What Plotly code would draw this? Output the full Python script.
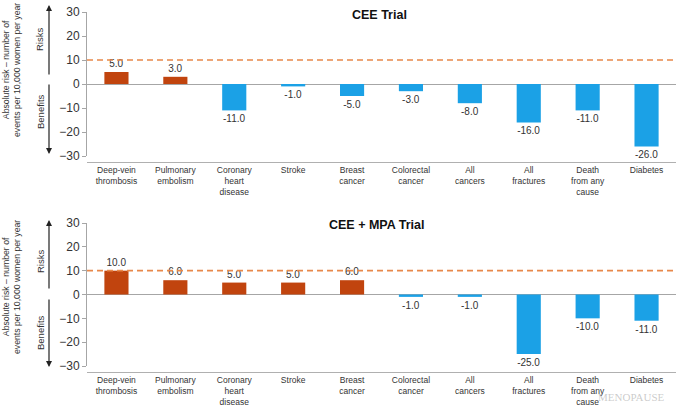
import plotly.graph_objects as go

categories = ["Deep-vein<br>thrombosis", "Pulmonary<br>embolism", "Coronary<br>heart<br>disease",
              "Stroke", "Breast<br>cancer", "Colorectal<br>cancer", "All<br>cancers",
              "All<br>fractures", "Death<br>from any<br>cause", "Diabetes"]
cee_values = [5.0, 3.0, -11.0, -1.0, -5.0, -3.0, -8.0, -16.0, -11.0, -26.0]
cee_mpa_values = [10.0, 6.0, 5.0, 5.0, 6.0, -1.0, -1.0, -25.0, -10.0, -11.0]
threshold = 10
y_ticks = [-30, -20, -10, 0, 10, 20, 30]
panel_titles = ["CEE Trial", "CEE + MPA Trial"]

RISK = "#C1440E"
BENEFIT = "#1BA1E6"
FONT = "Liberation Sans, Arial, sans-serif"

W, H = 676, 406
def py(px):
    return 1 - px / H
def pxx(px):
    return px / W

fig = go.Figure()
for i, vals in enumerate([cee_values, cee_mpa_values]):
    suf = "" if i == 0 else "2"
    fig.add_trace(go.Bar(
        x=categories, y=vals,
        marker=dict(color=[RISK if v > 0 else BENEFIT for v in vals], line=dict(width=0)),
        width=0.41,
        text=[f"{v:.1f}" for v in vals], textposition="outside",
        textfont=dict(size=10, color="#333333", family=FONT),
        cliponaxis=False, xaxis="x" + suf, yaxis="y" + suf, showlegend=False,
    ))

axis_common = dict(range=[-30, 30], tickvals=y_ticks, showline=True, linecolor="#A6A6A6",
                   linewidth=1, ticks="outside", ticklen=4, tickcolor="#A6A6A6",
                   zeroline=True, zerolinecolor="#A6A6A6", zerolinewidth=1, showgrid=False,
                   tickfont=dict(size=12, color="#333333", family=FONT), fixedrange=True,
                   automargin=False)
xcommon = dict(domain=[pxx(87), 1.0], anchor="free", showline=True, linecolor="#B0B0B0",
               linewidth=1, ticks="", showgrid=False, automargin=False, fixedrange=True,
               tickfont=dict(size=8.5, color="#333333", family=FONT), tickangle=0)

fig.update_layout(
    width=W, height=H, margin=dict(l=0, r=0, t=0, b=0, autoexpand=False),
    paper_bgcolor="white", plot_bgcolor="white",
    font=dict(family=FONT, color="#333333"),
    xaxis=dict(**xcommon, position=py(162)),
    xaxis2=dict(**xcommon, position=py(372)),
    yaxis=dict(**axis_common, domain=[py(156), py(12)], anchor="x"),
    yaxis2=dict(**axis_common, domain=[py(366), py(223)], anchor="x2"),
)

for yref in ["y", "y2"]:
    fig.add_shape(type="line", xref=("x domain" if yref == "y" else "x2 domain"), yref=yref,
                  x0=0, x1=1, y0=threshold, y1=threshold,
                  line=dict(color="#E8884A", width=1.6, dash="6px,4px"))

def label(text, x, y, size, color="#333333", angle=0):
    return dict(text=text, x=pxx(x), y=py(y), xref="paper", yref="paper", xanchor="center",
                yanchor="middle", textangle=angle, showarrow=False,
                font=dict(size=size, color=color))

ann = []
ann.append(label("<b>" + panel_titles[0] + "</b>", 379, 15, 12.5, "#111111"))
ann.append(label("<b>" + panel_titles[1] + "</b>", 377, 225, 12.5, "#111111"))

ytitle = "Absolute risk – number of<br>events per 10,000 women per year"
for cy in [70, 287]:
    ann.append(label(ytitle, 11, cy, 8.7, angle=-90))

for cy_r, cy_b in [(40, 112), (262, 333)]:
    ann.append(label("Risks", 40, cy_r, 9.5, angle=-90))
    ann.append(label("Benefits", 40, cy_b, 9.5, angle=-90))

for head, tail in [(5, 76), (154, 83), (220, 290), (367, 298)]:
    ann.append(dict(text="", x=pxx(49), y=py(head), xref="paper", yref="paper", showarrow=True,
                    ax=0, ay=tail - head, arrowhead=2, arrowsize=1, arrowwidth=1.2, arrowcolor="#222222"))

ann.append(dict(text="MENOPAUSE", x=pxx(596), y=py(397), xref="paper", yref="paper", xanchor="left",
                yanchor="middle", showarrow=False,
                font=dict(size=11, color="rgba(160,160,160,0.55)", family="Liberation Serif, serif")))

fig.update_layout(annotations=ann)
fig.write_html("out.html", config={"displayModeBar": False},
               post_script="document.body.style.margin='0';document.body.style.overflow='hidden';")
